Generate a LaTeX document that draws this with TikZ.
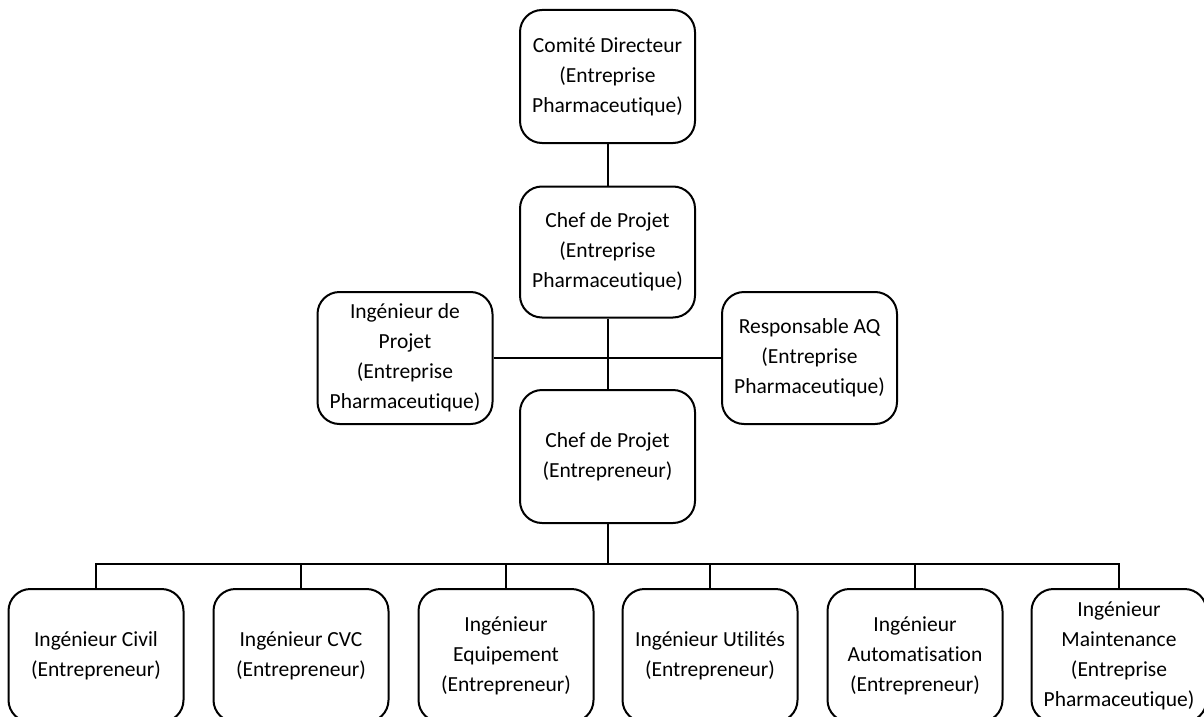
\documentclass[tikz,border=0pt]{standalone}
\usepackage{fontspec}
\setmainfont[Ligatures=NoCommon]{Carlito}
\begin{document}
\begin{tikzpicture}[x=1pt,y=-1pt,
  box/.style={draw,line width=2pt,rounded corners=22pt,minimum width=175pt,minimum height=133pt,align=center,inner sep=0pt,font=\fontsize{21.5}{30}\selectfont},
  conn/.style={line width=2pt}]
\useasboundingbox (0,0) rectangle (1204,717);
\clip (0,0) rectangle (1204,717);
\node[box] (top) at (607.5,76.5) {Comité Directeur\\(Entreprise\\Pharmaceutique)};
\node[box,minimum height=131pt] (chefA) at (607.5,252) {Chef de Projet\\(Entreprise\\Pharmaceutique)};
\node[box,minimum height=132pt] (ingP) at (405,358) {Ingénieur de\\Projet\\(Entreprise\\Pharmaceutique)};
\node[box,minimum height=132pt] (aq) at (809.5,358) {Responsable AQ\\(Entreprise\\Pharmaceutique)};
\node[box] (chefB) at (607.5,456.5) {Chef de Projet\\(Entrepreneur)};
\node[box] (b1) at (96,655.5) {Ingénieur Civil\\(Entrepreneur)};
\node[box] (b2) at (301,655.5) {Ingénieur CVC\\(Entrepreneur)};
\node[box] (b3) at (506,655.5) {Ingénieur\\Equipement\\(Entrepreneur)};
\node[box] (b4) at (710,655.5) {Ingénieur Utilités\\(Entrepreneur)};
\node[box] (b5) at (915,655.5) {Ingénieur\\Automatisation\\(Entrepreneur)};
\node[box] (b6) at (1119,655.5) {Ingénieur\\Maintenance\\(Entreprise\\Pharmaceutique)};
\coordinate (bus) at (607.5,564);
\draw[conn] (top) -- (chefA);
\draw[conn] (chefA) -- (chefB);
\draw[conn] (ingP.east) -- (aq.west);
\draw[conn] (chefB.south) -- (bus);
\foreach \b in {b1,b2,b3,b4,b5,b6} \draw[conn] (\b.north) |- (bus);
\end{tikzpicture}
\end{document}
